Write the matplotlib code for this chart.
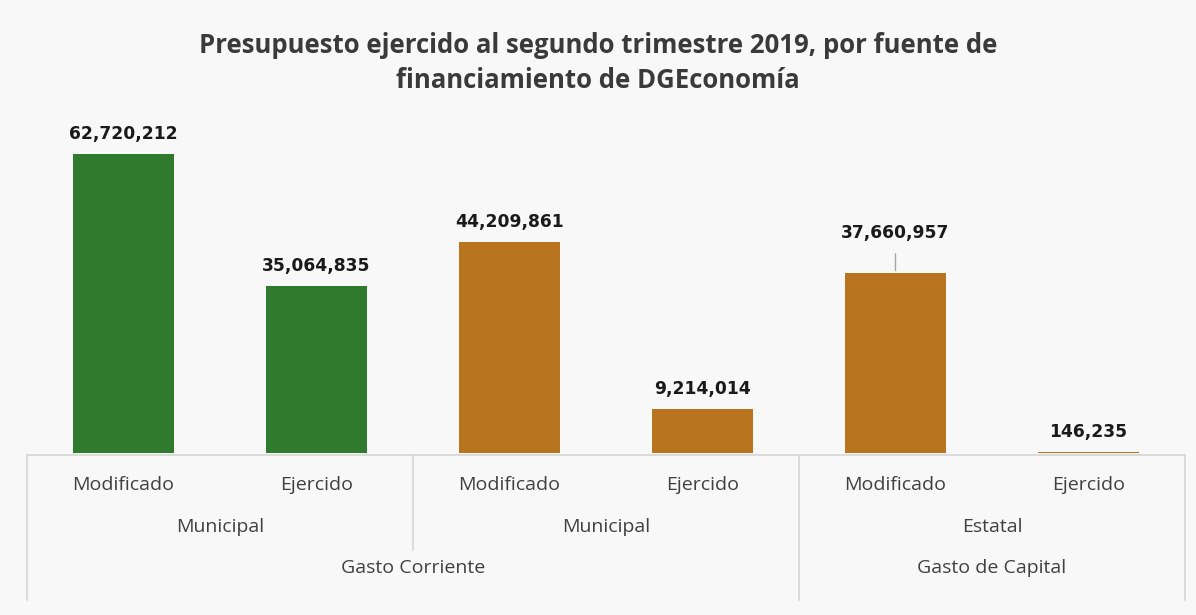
import matplotlib
matplotlib.use("Agg")
import matplotlib.pyplot as plt

# ---- data ----
level1 = ["Modificado", "Ejercido", "Modificado", "Ejercido", "Modificado", "Ejercido"]
level2 = ["Municipal", "Municipal", "Estatal"]
level3 = ["Gasto Corriente", "Gasto de Capital"]
values = [62720212, 35064835, 44209861, 9214014, 37660957, 146235]
bar_colors = ["#2f7a2c", "#2f7a2c", "#b8741f", "#b8741f", "#b8741f", "#b8741f"]
title = "Presupuesto ejercido al segundo trimestre 2019, por fuente de\nfinanciamiento de DGEconomía"

W, H = 1196, 615
fig = plt.figure(figsize=(W / 100, H / 100), dpi=100)
fig.patch.set_facecolor("#f8f8f8")

base_px = 453
top_px = 119
left_px, right_px = 27, 1185
ax = fig.add_axes([left_px / W, (H - base_px) / H, (right_px - left_px) / W, (base_px - top_px) / H])
ax.set_facecolor("none")
ax.set_xlim(-0.5, 5.5)
ax.set_ylim(0, 70e6)
for s in ax.spines.values():
    s.set_visible(False)
ax.set_xticks([])
ax.set_yticks([])

x = list(range(len(values)))
ax.bar(x, values, width=0.52, color=bar_colors, linewidth=0)

axh = base_px - top_px
def yf(py):
    return (base_px - py) / axh

tr = ax.get_xaxis_transform()
lbl_font = dict(fontfamily="DejaVu Sans", fontweight="bold", fontsize=12.3, color="#1a1a1a")
for i, v in enumerate(values):
    if i == 4:
        ax.annotate(f"{v:,}", xy=(i, v), xytext=(0, 28.8), textcoords="offset points",
                    ha="center", va="center", **lbl_font)
        ax.annotate("", xy=(i, v), xytext=(0, 16), textcoords="offset points",
                    arrowprops=dict(arrowstyle="-", color="#a6a6a6", lw=1))
    else:
        ax.annotate(f"{v:,}", xy=(i, v), xytext=(0, 14.5), textcoords="offset points",
                    ha="center", va="center", **lbl_font)

# multi-level category axis
cat_font = dict(fontfamily="Open Sans", fontsize=14, color="#404040")
for i, t in enumerate(level1):
    ax.text(i, yf(485), t, transform=tr, ha="center", va="center", clip_on=False, **cat_font)
for j, t in enumerate(level2):
    ax.text(2 * j + 0.5, yf(527), t, transform=tr, ha="center", va="center", clip_on=False, **cat_font)
ax.text(1.5, yf(568), level3[0], transform=tr, ha="center", va="center", clip_on=False, **cat_font)
ax.text(4.5, yf(568), level3[1], transform=tr, ha="center", va="center", clip_on=False, **cat_font)

gc = "#d6d6d6"
ax.plot([-0.5, 5.5], [yf(455), yf(455)], transform=tr, color=gc, lw=1.2, clip_on=False)
for xv, y_end in [(-0.5, 600), (1.5, 550), (3.5, 600), (5.5, 600)]:
    ax.plot([xv, xv], [yf(455), yf(y_end)], transform=tr, color=gc, lw=1.2, clip_on=False)

fig.text(0.5, 1 - 63 / H, title, ha="center", va="center", fontfamily="Open Sans",
         fontweight="bold", fontsize=18.5, color="#3a3a3a", linespacing=1.35)

fig.savefig("out.png", dpi=100, facecolor=fig.get_facecolor())
